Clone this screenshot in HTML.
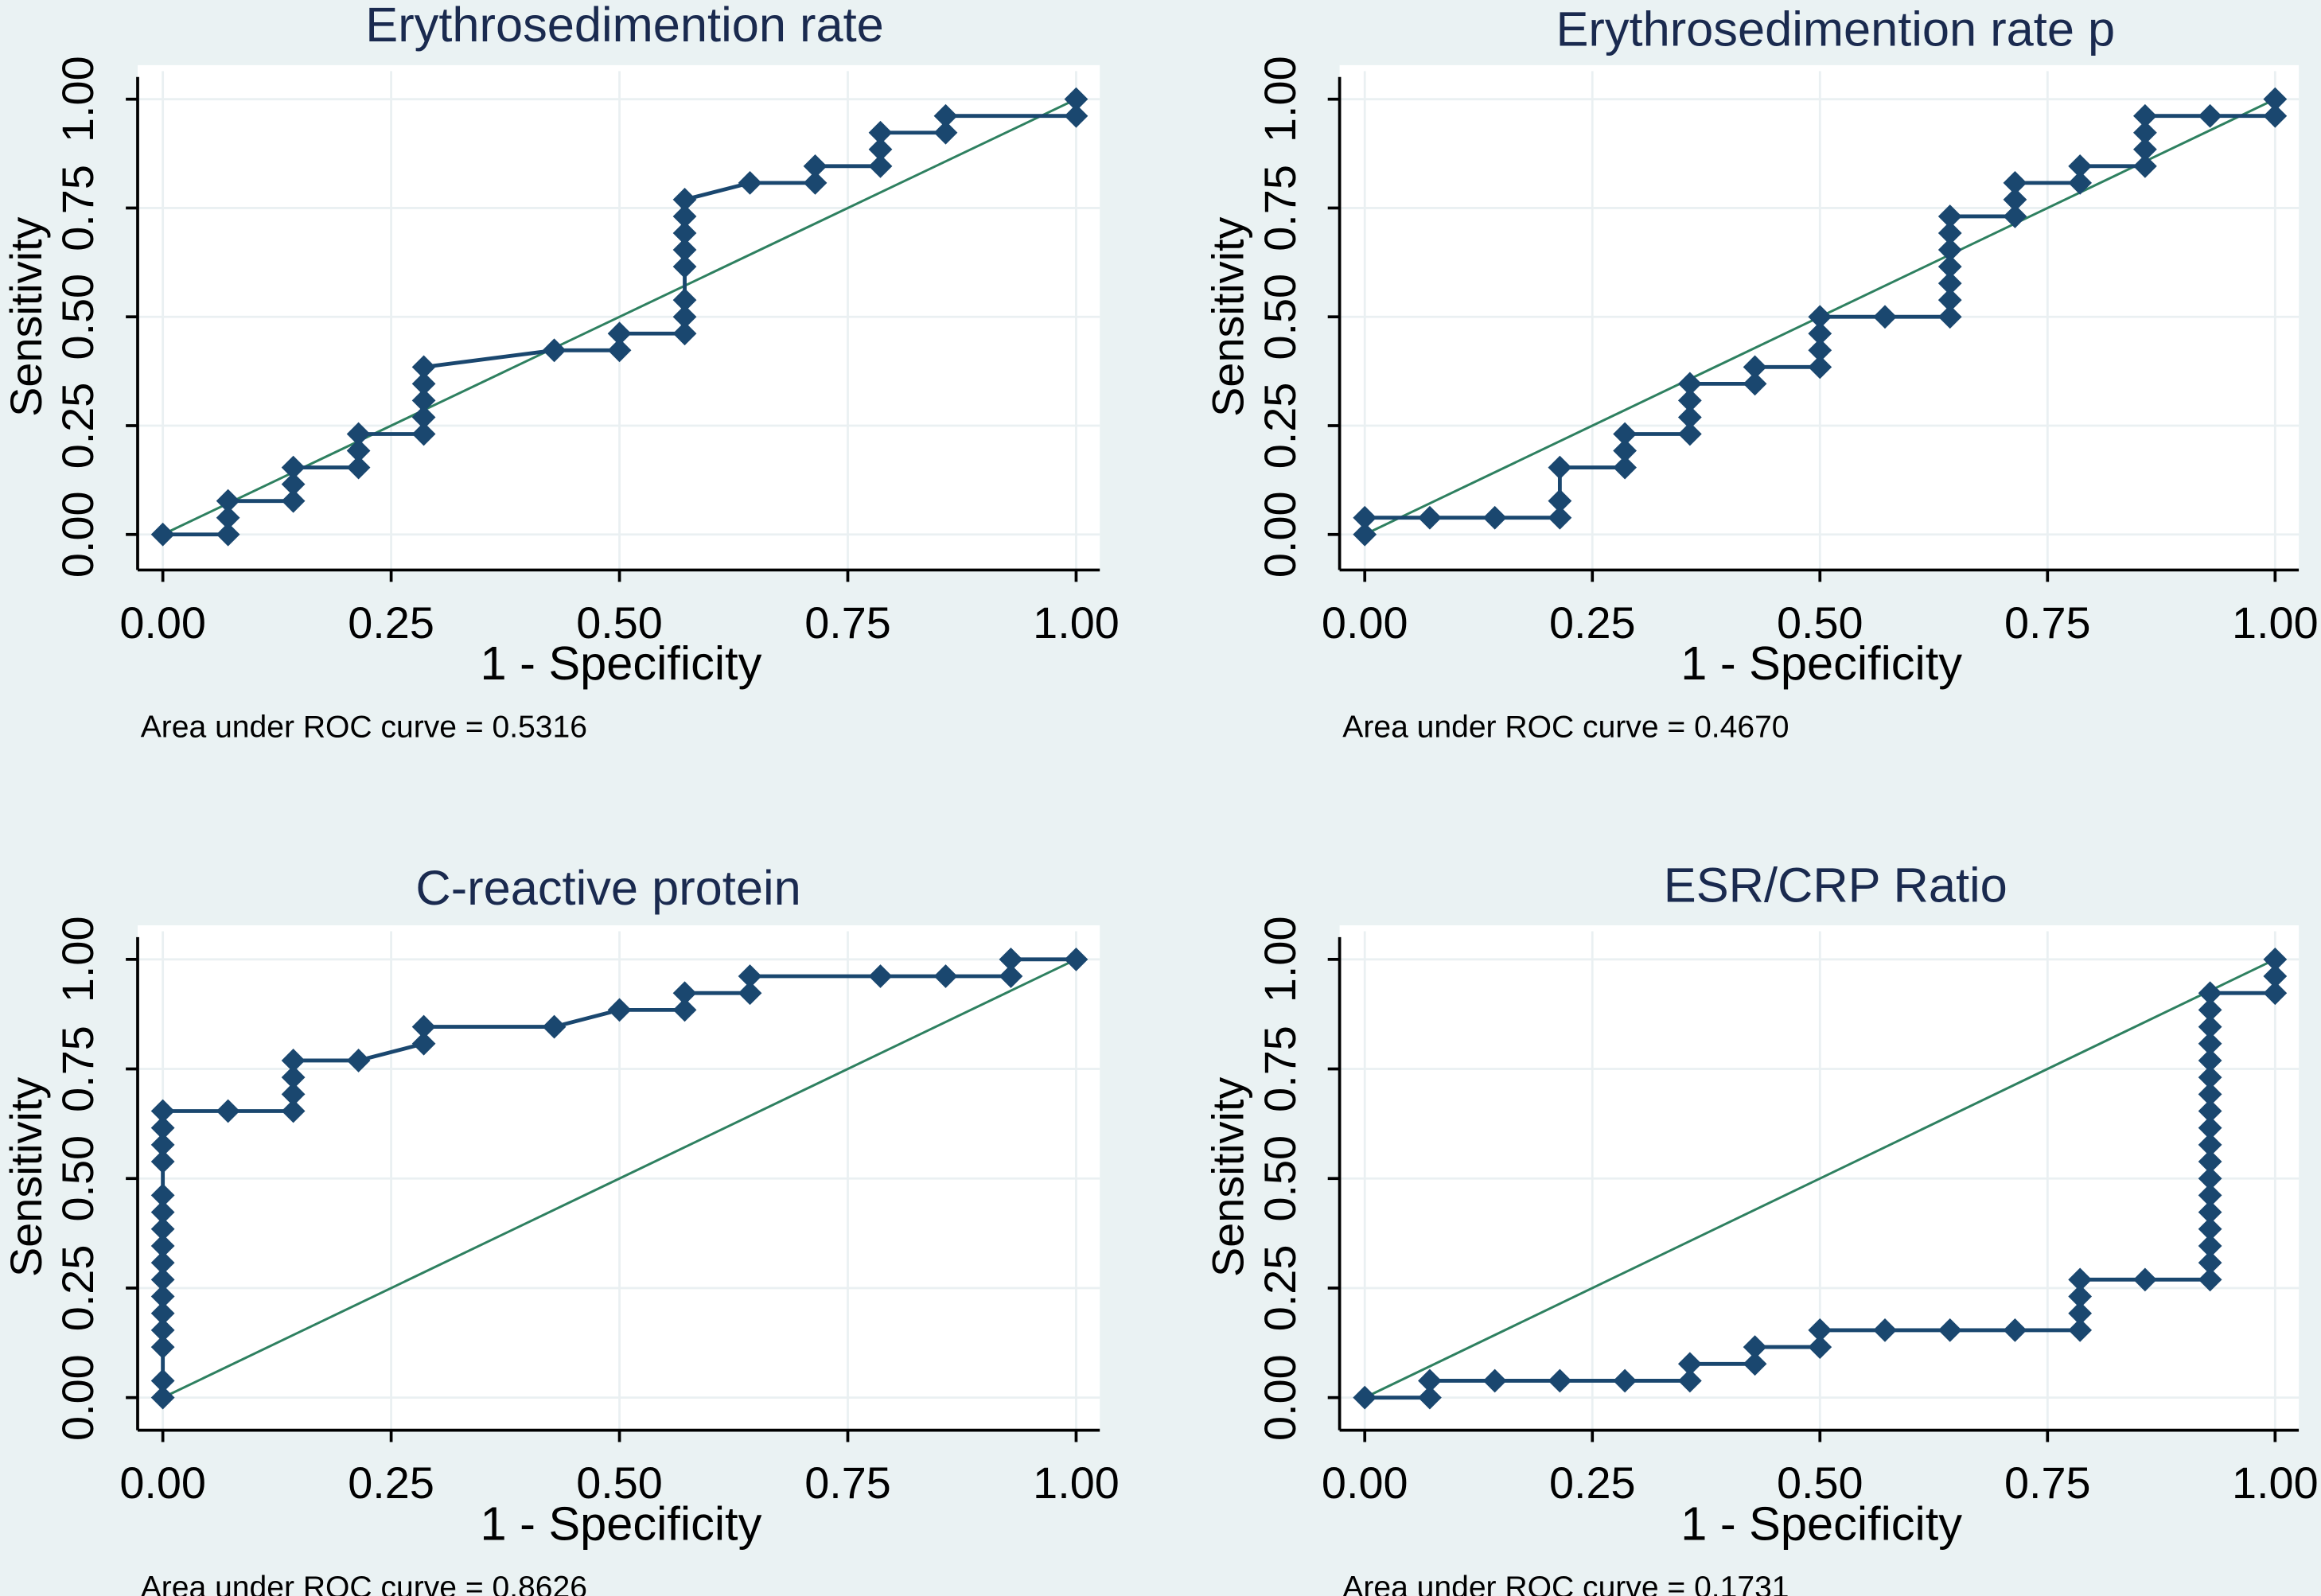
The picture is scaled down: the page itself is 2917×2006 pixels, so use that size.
<!DOCTYPE html>
<html><head><meta charset="utf-8"><style>
html,body{margin:0;padding:0;background:#eaf2f3;}
svg{display:block;}
text{font-family:"Liberation Sans",Arial,sans-serif;}
</style></head><body>
<svg id="chart" width="2917" height="2006" viewBox="0 0 1568 1078" preserveAspectRatio="none" xmlns="http://www.w3.org/2000/svg">
<rect x="0" y="0" width="1568" height="1078" fill="#eaf2f3"/>
</svg>
<script>
const titles = ["Erythrosedimention rate","Erythrosedimention rate p","C-reactive protein","ESR/CRP Ratio"];
const aucLabels = ["Area under ROC curve = 0.5316","Area under ROC curve = 0.4670","Area under ROC curve = 0.8626","Area under ROC curve = 0.1731"];
const tickLabels = ["0.00","0.25","0.50","0.75","1.00"];
const tickValues = [0,0.25,0.5,0.75,1];
const N = 14, P = 26;
// points as [negative-count, positive-count]
const series1 = [[0,0],[1,0],[1,1],[1,2],[2,2],[2,3],[2,4],[3,4],[3,5],[3,6],[4,6],[4,7],[4,8],[4,9],[4,10],[6,11],[7,11],[7,12],[8,12],[8,13],[8,14],[8,16],[8,17],[8,18],[8,19],[8,20],[9,21],[10,21],[10,22],[11,22],[11,23],[11,24],[12,24],[12,25],[14,25],[14,26]];
const series2 = [[0,0],[0,1],[1,1],[2,1],[3,1],[3,2],[3,4],[4,4],[4,5],[4,6],[5,6],[5,7],[5,8],[5,9],[6,9],[6,10],[7,10],[7,11],[7,12],[7,13],[8,13],[9,13],[9,14],[9,15],[9,16],[9,17],[9,18],[9,19],[10,19],[10,20],[10,21],[11,21],[11,22],[12,22],[12,23],[12,24],[12,25],[13,25],[14,25],[14,26]];
const series3 = [[0,0],[0,1],[0,3],[0,4],[0,5],[0,6],[0,7],[0,8],[0,9],[0,10],[0,11],[0,12],[0,14],[0,15],[0,16],[0,17],[1,17],[2,17],[2,18],[2,19],[2,20],[3,20],[4,21],[4,22],[6,22],[7,23],[8,23],[8,24],[9,24],[9,25],[11,25],[12,25],[13,25],[13,26],[14,26]];
const series4 = [[0,0],[1,0],[1,1],[2,1],[3,1],[4,1],[5,1],[5,2],[6,2],[6,3],[7,3],[7,4],[8,4],[9,4],[10,4],[11,4],[11,5],[11,6],[11,7],[12,7],[13,7],[13,8],[13,9],[13,10],[13,11],[13,12],[13,13],[13,14],[13,15],[13,16],[13,17],[13,18],[13,19],[13,20],[13,21],[13,22],[13,23],[13,24],[14,24],[14,25],[14,26]];
const allSeries = [series1,series2,series3,series4];

const svg = document.getElementById('chart');
const NS = 'http://www.w3.org/2000/svg';
function mk(tag, attrs, parent){const e=document.createElementNS(NS,tag);for(const k in attrs)e.setAttribute(k,attrs[k]);parent.appendChild(e);return e;}
const panels = [
 {x0:110,x1:727,y0:361,y1:67,bx:93,by:44,bw:650,bh:341,ty:28,cx:422},
 {x0:922,x1:1537,y0:361,y1:67,bx:905,by:44,bw:648,bh:341,ty:31,cx:1240},
 {x0:110,x1:727,y0:944,y1:648,bx:93,by:625,bw:650,bh:341,ty:611,cx:411},
 {x0:922,x1:1537,y0:944,y1:648,bx:905,by:625,bw:648,bh:341,ty:609,cx:1240}
];
panels.forEach((p,i)=>{
  const g = mk('g',{},svg);
  
  
  const sx = v=>p.x0+v*(p.x1-p.x0), sy=v=>p.y0+v*(p.y1-p.y0);
  const bg = mk('rect',{x:p.bx,y:p.by,width:p.bw,height:p.bh,fill:'#ffffff'},g);
  
  
  tickValues.forEach(v=>{
    const gx = mk('line',{x1:sx(v),x2:sx(v),y1:p.by+4,y2:p.by+p.bh,stroke:'#eaf0f2','stroke-width':1.5},g);
    
    
    const gy = mk('line',{x1:p.bx,x2:p.bx+p.bw,y1:sy(v),y2:sy(v),stroke:'#eaf0f2','stroke-width':1.5},g);
    
    
  });
  mk('line',{x1:p.bx,x2:p.bx,y1:p.by+8,y2:p.by+p.bh,stroke:'#000','stroke-width':2},g);
  mk('line',{x1:p.bx,x2:p.bx+p.bw,y1:p.by+p.bh,y2:p.by+p.bh,stroke:'#000','stroke-width':2},g);
  tickValues.forEach((v,k)=>{
    mk('line',{x1:sx(v),x2:sx(v),y1:p.by+p.bh,y2:p.by+p.bh+8,stroke:'#000','stroke-width':2},g);
    mk('line',{x1:p.bx-8,x2:p.bx,y1:sy(v),y2:sy(v),stroke:'#000','stroke-width':2},g);
    const xt = mk('text',{x:sx(v),y:p.by+p.bh+46,'font-size':30,'text-anchor':'middle',fill:'#000'},g);
    xt.textContent = tickLabels[k];
    
    
    const yt = mk('text',{x:0,y:0,'font-size':30,'text-anchor':'middle',fill:'#000',transform:`translate(${p.bx-30},${sy(v)}) rotate(-90)`},g);
    yt.textContent = tickLabels[k];
    
    
  });
  const tt = mk('text',{x:p.cx,y:p.ty,'font-size':33,'text-anchor':'middle',fill:'#1a2a4f'},g);
  tt.textContent = titles[i];
  
  
  const xa = mk('text',{x:(p.x0+p.x1)/2+1,y:p.by+p.bh+74,'font-size':32,'text-anchor':'middle',fill:'#000'},g);
  xa.textContent = '1 - Specificity';
  
  
  const ya = mk('text',{x:0,y:0,'font-size':30,'text-anchor':'middle',fill:'#000',transform:`translate(${p.bx-65},${p.by+170}) rotate(-90)`},g);
  ya.textContent = 'Sensitivity';
  
  
  const au = mk('text',{x:p.bx+2,y:p.by+p.bh+113,'font-size':21,fill:'#000'},g);
  au.textContent = aucLabels[i];
  
  
  const dg = mk('line',{x1:sx(0),y1:sy(0),x2:sx(1),y2:sy(1),stroke:'#2e8060','stroke-width':1.6},g);
  
  
  const pts = allSeries[i].map(d=>[sx(d[0]/N),sy(d[1]/P)]);
  const pl = mk('polyline',{points:pts.map(q=>q.join(',')).join(' '),fill:'none',stroke:'#1a476f','stroke-width':2.6},g);
  
  
  pts.forEach(q=>{
    const m = mk('path',{d:`M${q[0]-8},${q[1]} L${q[0]},${q[1]-8} L${q[0]+8},${q[1]} L${q[0]},${q[1]+8} Z`,fill:'#1a476f'},g);
    
    
  });
});
</script>
</body></html>
